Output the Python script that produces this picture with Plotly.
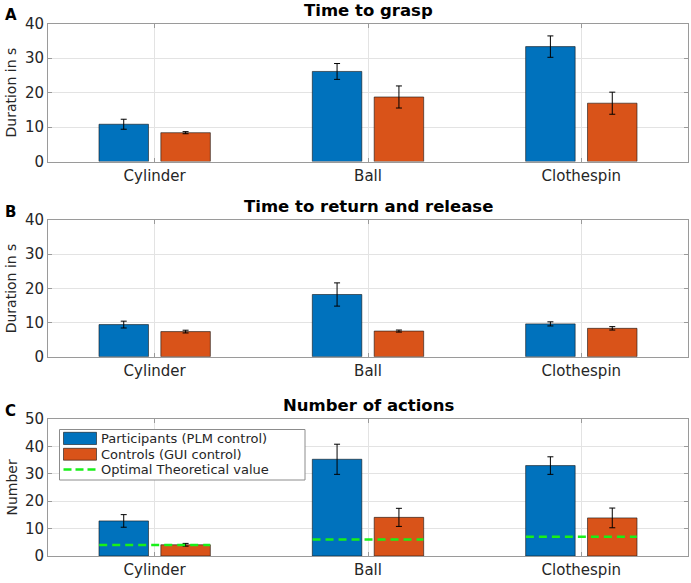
import plotly.graph_objects as go

# ---------------- data ----------------
categories = ["Cylinder", "Ball", "Clothespin"]
series_names = ["Participants (PLM control)", "Controls (GUI control)", "Optimal Theoretical value"]

grasp_participants = [10.8, 26.1, 33.3]
grasp_participants_err = [1.45, 2.3, 3.1]
grasp_controls = [8.35, 18.7, 16.9]
grasp_controls_err = [0.3, 3.2, 3.2]

release_participants = [9.4, 18.2, 9.6]
release_participants_err = [1.0, 3.4, 0.6]
release_controls = [7.35, 7.5, 8.3]
release_controls_err = [0.4, 0.3, 0.5]

actions_participants = [12.8, 35.3, 33.0]
actions_participants_err = [2.3, 5.5, 3.2]
actions_controls = [4.1, 14.1, 13.9]
actions_controls_err = [0.5, 3.3, 3.6]
optimal_actions = [4, 6, 7]

panel_titles = ["Time to grasp", "Time to return and release", "Number of actions"]
panel_letters = ["A", "B", "C"]
y_titles = ["Duration in s", "Duration in s", "Number"]
y_ranges = [[0, 40], [0, 40], [0, 50]]
y_ticks = [[0, 10, 20, 30, 40], [0, 10, 20, 30, 40], [0, 10, 20, 30, 40, 50]]

# ---------------- style ----------------
W, H = 691, 583
BLUE = "#0072BD"
ORANGE = "#D95319"
GREEN = "#19f019"
FONT = "DejaVu Sans"
TXT = "#262626"
GRID = "#e3e3e3"
FRAME = "#9a9a9a"

x_pos = list(range(1, len(categories) + 1))
half_span = 0.26  # green line half-length (group width)


def px_x(p):
    return p / W


def px_y(p):
    return 1 - p / H


# plot areas in pixels (left, right, top, bottom)
areas = [(48, 688, 23.5, 161.5), (48, 688, 220, 356.7), (48, 688, 419, 556)]

fig = go.Figure()

panels = [
    (grasp_participants, grasp_participants_err, grasp_controls, grasp_controls_err),
    (release_participants, release_participants_err, release_controls, release_controls_err),
    (actions_participants, actions_participants_err, actions_controls, actions_controls_err),
]

for i, (p, pe, c, ce) in enumerate(panels):
    xa = "x" if i == 0 else f"x{i+1}"
    ya = "y" if i == 0 else f"y{i+1}"
    fig.add_trace(go.Bar(
        x=x_pos, y=p, name=series_names[0], xaxis=xa, yaxis=ya,
        marker=dict(color=BLUE, line=dict(color="rgba(20,20,20,0.75)", width=0.8)),
        error_y=dict(type="data", array=pe, color="black", thickness=1, width=3),
        showlegend=False,
    ))
    fig.add_trace(go.Bar(
        x=x_pos, y=c, name=series_names[1], xaxis=xa, yaxis=ya,
        marker=dict(color=ORANGE, line=dict(color="rgba(20,20,20,0.75)", width=0.8)),
        error_y=dict(type="data", array=ce, color="black", thickness=1, width=3),
        showlegend=False,
    ))

# optimal theoretical value lines (panel C)
gx, gy = [], []
for xp, v in zip(x_pos, optimal_actions):
    gx += [xp - half_span, xp + half_span, None]
    gy += [v, v, None]
fig.add_trace(go.Scatter(
    x=gx, y=gy, mode="lines", name=series_names[2], xaxis="x3", yaxis="y3",
    line=dict(color=GREEN, width=2.5, dash="8px,5px"), showlegend=False,
))

layout = dict(
    template="none",
    width=W, height=H,
    margin=dict(l=0, r=0, t=0, b=0, pad=0),
    paper_bgcolor="white", plot_bgcolor="white",
    barmode="group", bargap=0.42, bargroupgap=0.2,
    font=dict(family=FONT, color=TXT, size=15),
    showlegend=False,
)

annotations = []
shapes = []
for i, (l, r, t, b) in enumerate(areas):
    xk = "xaxis" if i == 0 else f"xaxis{i+1}"
    yk = "yaxis" if i == 0 else f"yaxis{i+1}"
    ya = "y" if i == 0 else f"y{i+1}"
    xa = "x" if i == 0 else f"x{i+1}"
    layout[xk] = dict(
        domain=[px_x(l), px_x(r)], anchor=ya, range=[0.5, len(categories) + 0.5],
        tickmode="array", tickvals=x_pos, ticktext=categories,
        showgrid=True, gridcolor=GRID, gridwidth=1, zeroline=False,
        showline=True, linecolor=FRAME, linewidth=1, mirror="ticks",
        ticks="inside", ticklen=4, tickcolor=FRAME, automargin=False,
        tickfont=dict(family=FONT, size=15, color=TXT), fixedrange=True,
    )
    layout[yk] = dict(
        domain=[px_y(b), px_y(t)], anchor=xa, range=y_ranges[i],
        tickmode="array", tickvals=y_ticks[i],
        showgrid=True, gridcolor=GRID, gridwidth=1, zeroline=False,
        showline=True, linecolor=FRAME, linewidth=1, mirror="ticks",
        ticks="inside", ticklen=4, tickcolor=FRAME, automargin=False,
        tickfont=dict(family=FONT, size=15, color=TXT),
        fixedrange=True,
    )
    # y-axis title
    annotations.append(dict(
        text=y_titles[i], xref="paper", yref="paper",
        x=px_x(11), y=px_y((t + b) / 2), xanchor="center", yanchor="middle",
        textangle=-90, showarrow=False, font=dict(family=FONT, size=14, color=TXT),
    ))
    # panel title
    annotations.append(dict(
        text=f"<b>{panel_titles[i]}</b>", xref="paper", yref="paper",
        x=px_x((l + r) / 2), y=px_y(t - 2), xanchor="center", yanchor="bottom",
        showarrow=False, font=dict(family=FONT, size=16.5, color="black"),
    ))
    # panel letter
    annotations.append(dict(
        text=f"<b>{panel_letters[i]}</b>", xref="paper", yref="paper",
        x=px_x(3), y=px_y(t - 8), xanchor="left", yanchor="middle",
        showarrow=False, font=dict(family=FONT, size=15, color="black"),
    ))

# custom legend (panel C, top-left)
lg_l, lg_r, lg_t, lg_b = 59.5, 305, 429.5, 480
shapes.append(dict(type="rect", xref="paper", yref="paper",
                   x0=px_x(lg_l), x1=px_x(lg_r), y0=px_y(lg_b), y1=px_y(lg_t),
                   fillcolor="white", line=dict(color="#8c8c8c", width=1), layer="above"))
rows_y = [438.3, 454.2, 469.5]
sw_l, sw_r = 63.5, 96.5
shapes.append(dict(type="rect", xref="paper", yref="paper",
                   x0=px_x(sw_l), x1=px_x(sw_r), y0=px_y(444.5), y1=px_y(432.3),
                   fillcolor=BLUE, line=dict(color="rgba(20,20,20,0.75)", width=0.8), layer="above"))
shapes.append(dict(type="rect", xref="paper", yref="paper",
                   x0=px_x(sw_l), x1=px_x(sw_r), y0=px_y(460.2), y1=px_y(448.3),
                   fillcolor=ORANGE, line=dict(color="rgba(20,20,20,0.75)", width=0.8), layer="above"))
shapes.append(dict(type="line", xref="paper", yref="paper",
                   x0=px_x(sw_l), x1=px_x(sw_r), y0=px_y(rows_y[2]), y1=px_y(rows_y[2]),
                   line=dict(color=GREEN, width=2.5, dash="8px,4px"), layer="above"))
for name, yy in zip(series_names, rows_y):
    annotations.append(dict(
        text=name, xref="paper", yref="paper", x=px_x(98.5), y=px_y(yy),
        xanchor="left", yanchor="middle", showarrow=False,
        font=dict(family=FONT, size=13, color=TXT),
    ))

layout["annotations"] = annotations
layout["shapes"] = shapes
fig.update_layout(**layout)

fig.write_html(
    "out.html",
    config={"displayModeBar": False},
    post_script="document.body.style.margin='0px';document.body.style.overflow='hidden';",
)
